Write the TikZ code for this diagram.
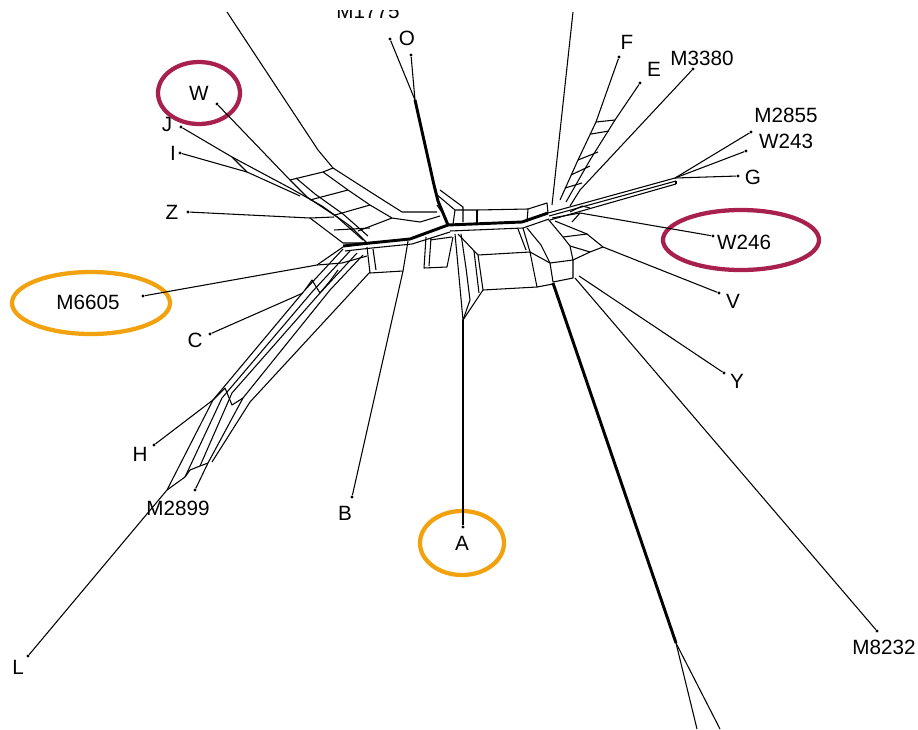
\documentclass[tikz,border=0pt]{standalone}
\usepackage{fontspec}
\setmainfont{Liberation Sans}
\definecolor{ringred}{HTML}{A8204E}
\definecolor{ringorange}{HTML}{F2A20F}
\begin{document}
\begin{tikzpicture}[x=0.75pt,y=-0.75pt,
  edge/.style={line width=0.8pt, line join=round},
  heavy/.style={line width=2.2pt, line join=round},
  taxon/.style={font=\fontsize{15.5}{18}\selectfont, inner sep=0pt},
  tipdot/.style={circle, fill, inner sep=0pt, minimum size=2.4pt},
  ring/.style={line width=3.2pt}]
\useasboundingbox (0,0) rectangle (918,729);
\clip (0,10) rectangle (918,729);

% ---- taxon labels ----
\node[taxon] (lM1775) at (368,11) {M1775};
\node[taxon] (lO) at (407,38) {O};
\node[taxon] (lF) at (627,42) {F};
\node[taxon] (lE) at (654,69) {E};
\node[taxon] (lM3380) at (702,58) {M3380};
\node[taxon] (lM2855) at (786,115) {M2855};
\node[taxon] (lW243) at (786,141) {W243};
\node[taxon] (lG) at (753,177) {G};
\node[taxon] (lW246) at (744,242) {W246};
\node[taxon] (lV) at (733,301) {V};
\node[taxon] (lY) at (737,381) {Y};
\node[taxon] (lM8232) at (884,647) {M8232};
\node[taxon] (lA) at (462,543) {A};
\node[taxon] (lB) at (345,513) {B};
\node[taxon] (lM2899) at (178,508) {M2899};
\node[taxon] (lL) at (18,667) {L};
\node[taxon] (lH) at (140,454) {H};
\node[taxon] (lC) at (195,340) {C};
\node[taxon] (lM6605) at (88,302) {M6605};
\node[taxon] (lZ) at (172,212) {Z};
\node[taxon] (lI) at (173,153) {I};
\node[taxon] (lJ) at (167,124) {J};
\node[taxon] (lW) at (199,93) {W};

% ---- highlight rings ----
\draw[ring, ringred] (lW) ellipse [x radius=41, y radius=31];
\draw[ring, ringred] (741,240) ellipse [x radius=78, y radius=30];
\draw[ring, ringorange] (91,303) ellipse [x radius=79, y radius=31];
\draw[ring, ringorange] (lA) ellipse [x radius=42, y radius=32];

% ---- tip points ----
\node[tipdot] (tM1775) at (390,39) {};
\node[tipdot] (tO) at (411,55) {};
\node[tipdot] (tF) at (619,57) {};
\node[tipdot] (tE) at (640,83) {};
\node[tipdot] (tM3380) at (693,69) {};
\node[tipdot] (tM2855) at (751,132) {};
\node[tipdot] (tW243) at (746,151) {};
\node[tipdot] (tG) at (738,176) {};
\node[tipdot] (tW246) at (713,236) {};
\node[tipdot] (tV) at (719,293) {};
\node[tipdot] (tY) at (724,373) {};
\node[tipdot] (tM8232) at (877,631) {};
\node[tipdot] (tA) at (463,527) {};
\node[tipdot] (tB) at (352,497) {};
\node[tipdot] (tM2899) at (195,490) {};
\node[tipdot] (tL) at (28,656) {};
\node[tipdot] (tH) at (154,445) {};
\node[tipdot] (tC) at (210,334) {};
\node[tipdot] (tM6605) at (143,296) {};
\node[tipdot] (tZ) at (188,212) {};
\node[tipdot] (tI) at (180,153) {};
\node[tipdot] (tJ) at (181,127) {};
\node[tipdot] (tW) at (217,104) {};

% ---- main junctions ----
\coordinate (jO) at (415,100);
\coordinate (jG) at (675,178);
\coordinate (jS) at (676,643);
\coordinate (jA) at (463,320);
\coordinate (cL) at (448,225);
\coordinate (cM) at (522,222);
\coordinate (cR) at (548,213);

% ---- central core ----
\draw[heavy] (cL) -- (cM) -- (cR);
\draw[edge] (450,231) -- (523,228) -- (549,219);
\draw[edge] (tM1775) -- (jO);
\draw[edge] (tO) -- (jO);
\draw[heavy] (jO) -- (434,185) -- (438,201) -- (cL);
\draw[edge] (436,194) -- (455,210) -- (477,210) -- (528,209) -- (547,203) -- (cR);
\draw[edge] (440,190) -- (463,207) -- (463,222);
\draw[edge] (455,210) -- (453,224);
\draw[edge] (477,210) -- (477,223);
\draw[edge] (528,209) -- (527,222);
\draw[edge] (437,205) -- (446,218);

% ---- core towards the left ----
\draw[heavy] (cL) -- (410,239) -- (370,243) -- (343,246);
\draw[edge] (450,232) -- (412,244) -- (372,248) -- (345,251);
\draw[edge] (452,237) -- (430,240);

% boxes below the left core
\draw[edge] (367,247) -- (370,273) -- (403,271) -- (408,241);
\draw[edge] (373,249) -- (376,270);
\draw[edge] (426,237) -- (424,268) -- (447,267) -- (453,237);
\draw[edge] (431,238) -- (429,266);
\draw[edge] (tB) -- (403,271);

% big central box
\draw[edge] (455,234) -- (458,266) -- (jA);
\draw[edge] (461,234) -- (466,268) -- (470,300) -- (jA);
\draw[edge] (478,255) -- (530,252) -- (537,287) -- (483,290) -- cycle;
\draw[edge] (474,251) -- (479,293);
\draw[edge] (458,234) -- (478,255);
\draw[edge] (523,228) -- (530,252);
\draw[edge] (518,229) -- (526,250);
\draw[edge] (jA) -- (483,290);
\draw[edge] (tA) -- (jA);

% ---- right-hand lower fan ----
\draw[edge] (530,252) -- (550,263) -- (573,260) -- (590,252) -- (603,247);
\draw[edge] (550,263) -- (553,282) -- (573,278) -- (573,260);
\draw[edge] (537,287) -- (553,284);
\draw[edge] (527,228) -- (541,245) -- (550,263);
\draw[heavy] (553,283) -- (jS);
\draw[edge] (jS) -- (697,729);
\draw[edge] (jS) -- (720,729);
\draw[edge] (548,219) -- (563,237) -- (570,246) -- (573,260);
\draw[edge] (563,237) -- (587,234) -- (603,247);
\draw[edge] (570,246) -- (590,252);
\draw[edge] (555,221) -- (587,234);
\draw[edge] (tV) -- (603,247);
\draw[edge] (tY) -- (579,276);
\draw[edge] (tM8232) -- (575,278);
\draw[edge] (tW246) -- (580,213) -- (552,218);
\draw[edge] (580,213) -- (572,222);

% ---- bundle towards G ----
\draw[edge] (cR) -- (jG);
\draw[edge] (549,216) -- (676,181);
\draw[edge] (550,220) -- (676,184);
\draw[edge] (676,181) -- (676,184);
\draw[edge] (jG) -- (tG);
\draw[edge] (jG) -- (tW243);
\draw[edge] (jG) -- (tM2855);
\draw[edge] (570,212) -- (582,206) -- (590,208);

% ---- right-hand upper fan ----
\draw[edge] (573,12) -- (552,205);
\draw[edge] (tF) -- (596,122) -- (578,160) -- (560,200);
\draw[edge] (tE) -- (615,120) -- (590,160) -- (566,202);
\draw[edge] (tM3380) -- (580,190) -- (570,206);
\draw[edge] (596,122) -- (615,120);
\draw[edge] (591,134) -- (609,131);
\draw[edge] (578,160) -- (598,152);
\draw[edge] (571,175) -- (590,166);
\draw[edge] (565,188) -- (582,183);

% ---- left-hand upper fan ----
\draw[edge] (227,12) -- (318,150) -- (333,168) -- (372,193) -- (402,212) -- (437,212);
\draw[edge] (323,172) -- (348,190) -- (370,205) -- (392,218) -- (420,222) -- (440,216);
\draw[edge] (tW) -- (290,180) -- (307,197) -- (337,217) -- (363,240);
\draw[edge] (296,178) -- (315,194) -- (343,214) -- (368,236);
\draw[edge] (tJ) -- (232,157) -- (290,188) -- (322,206) -- (350,226) -- (367,243);
\draw[edge] (tI) -- (247,172) -- (300,196);
\draw[edge] (232,157) -- (247,172);
\draw[edge] (290,180) -- (323,172);
\draw[edge] (310,200) -- (348,190);
\draw[edge] (335,215) -- (370,205);
\draw[edge] (358,231) -- (392,218);
\draw[edge] (333,168) -- (323,172);
\draw[edge] (tZ) -- (310,218) -- (343,243) -- (370,243);
\draw[edge] (310,218) -- (334,217);
\draw[edge] (334,230) -- (370,228);

% ---- left-hand lower fan ----
\draw[edge] (tM6605) -- (317,265) -- (343,247);
\draw[edge] (317,265) -- (342,263) -- (367,256);
\draw[edge] (343,249) -- (305,290) -- (213,400) -- (167,490) -- (tL);
\draw[edge] (350,251) -- (312,292) -- (222,398) -- (185,477);
\draw[edge] (357,253) -- (320,293) -- (232,393) -- (200,466);
\draw[edge] (363,255) -- (330,290) -- (243,398) -- (208,463) -- (tM2899);
\draw[edge] (370,272) -- (250,402) -- (212,462);
\draw[edge] (305,290) -- (312,280) -- (320,293) -- (330,281) -- (338,270);
\draw[edge] (213,400) -- (225,388) -- (232,405) -- (243,398);
\draw[edge] (167,490) -- (185,477) -- (190,470) -- (200,466) -- (208,463);
\draw[edge] (tH) -- (213,400);
\draw[edge] (tC) -- (303,293);
\end{tikzpicture}
\end{document}
